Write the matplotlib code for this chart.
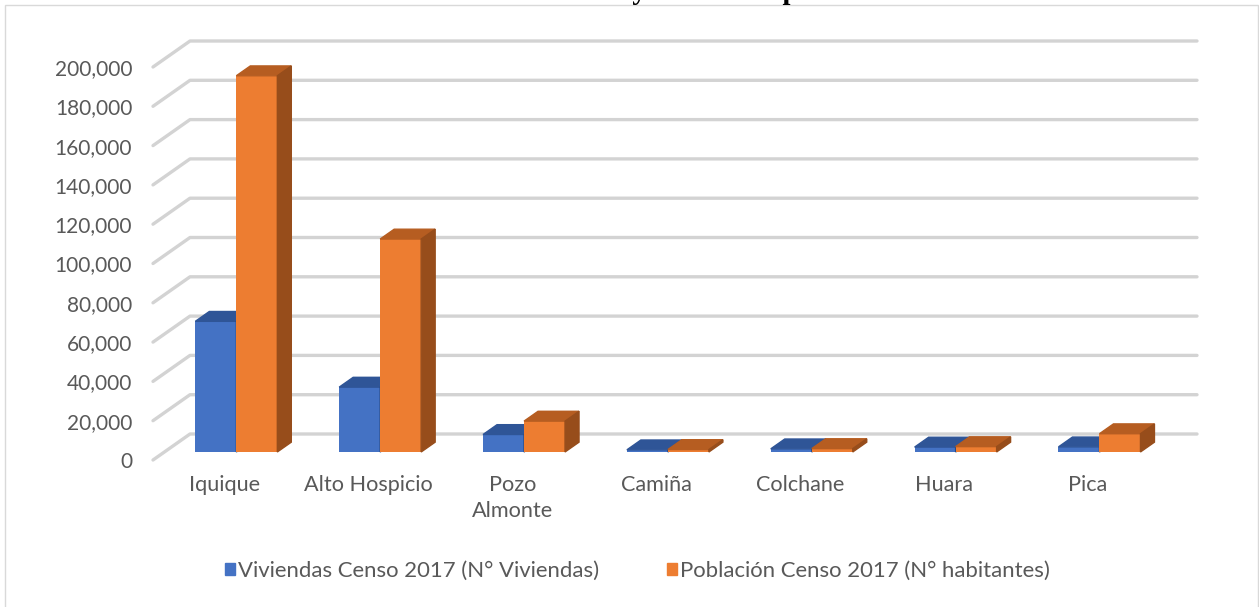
import matplotlib
matplotlib.use("Agg")
import matplotlib.pyplot as plt
from matplotlib.patches import Polygon, Rectangle

comunas = ["Iquique", "Alto Hospicio", "Pozo\nAlmonte", "Camiña", "Colchane", "Huara", "Pica"]
viviendas = [66500, 33000, 8900, 1100, 1600, 2500, 2600]
poblacion = [191468, 108375, 15711, 1250, 1728, 2730, 9296]
yticks = list(range(0, 200001, 20000))
series_names = ["Viviendas Censo 2017 (N° Viviendas)", "Población Censo 2017 (N° habitantes)"]

# front / top / side colours for the fake 3D boxes
blue = ("#4472C4", "#2F5597", "#284A85")
orange = ("#ED7D31", "#B65D21", "#974D1B")

plt.rcParams["font.family"] = ["Lato", "DejaVu Sans"]

W, H = 1259, 607
fig = plt.figure(figsize=(W / 100, H / 100), dpi=100)
# axes = front plane of the floor
ax = fig.add_axes([153 / W, 147 / H, 1007 / W, 393 / H])
ax.set_xlim(-0.5, 6.5)
ax.set_ylim(0, 200000)

# full depth of the floor, in data units
DX = 37 / 1007 * 7
DY = 26 / 393 * 200000

# back wall gridlines with the short diagonal on the side wall
for v in yticks:
    ax.plot([-0.5, -0.5 + DX, 6.5 + DX], [v, v + DY, v + DY], color="#d3d3d3",
            lw=2.4, clip_on=False, zorder=1, solid_capstyle="round")

f0 = 0.308   # depth where bar fronts sit
fd = 0.378   # depth of each bar
bw = 0.285
bdx, bdy = fd * DX, fd * DY
base = f0 * DY

for j, (vals, cols) in enumerate([(viviendas, blue), (poblacion, orange)]):
    z = 2 + j
    for i, val in enumerate(vals):
        left = i - bw + j * bw + f0 * DX
        ax.bar(left, val, width=bw, bottom=base, align="edge", color=cols[0],
               clip_on=False, zorder=z)
        top = base + val
        ax.add_patch(Polygon([(left, top), (left + bw, top), (left + bw + bdx, top + bdy),
                              (left + bdx, top + bdy)], closed=True, color=cols[1],
                             clip_on=False, zorder=z))
        ax.add_patch(Polygon([(left + bw, base), (left + bw + bdx, base + bdy),
                              (left + bw + bdx, top + bdy), (left + bw, top)], closed=True,
                             color=cols[2], clip_on=False, zorder=z))

ax.set_yticks(yticks, labels=[f"{v:,}" for v in yticks])
ax.set_xticks(range(len(comunas)), labels=comunas)
for s in ax.spines.values():
    s.set_visible(False)
ax.tick_params(axis="both", length=0, labelcolor="#595959")
ax.tick_params(axis="y", pad=15, labelsize=15)
ax.tick_params(axis="x", pad=10.5, labelsize=15.6)
for t in ax.get_xticklabels():
    t.set_linespacing(1.4)
ax.set_facecolor("none")

handles = [Rectangle((0, 0), 1, 1, color=blue[0]), Rectangle((0, 0), 1, 1, color=orange[0])]
leg = fig.legend(handles, series_names, loc="center", bbox_to_anchor=(0.5064, 0.0593), ncol=2,
                 frameon=False, fontsize=15.9, handlelength=0.42, handleheight=0.42,
                 handletextpad=0.15, columnspacing=3.1)
for t in leg.get_texts():
    t.set_color("#595959")

# chart border
fig.add_artist(Rectangle((5 / W, -0.02), 1253 / W, 0.02 + 602 / H, transform=fig.transFigure,
                         fill=False, edgecolor="#d9d9d9", lw=1))

# title sits above the visible area, only descenders show
fig.text(505 / W, 1 + 1 / H, "Viviendas y Población por comuna", family="Liberation Serif",
         fontweight="bold", fontsize=20.7, ha="left", va="baseline")

fig.savefig("out.png", dpi=100)
